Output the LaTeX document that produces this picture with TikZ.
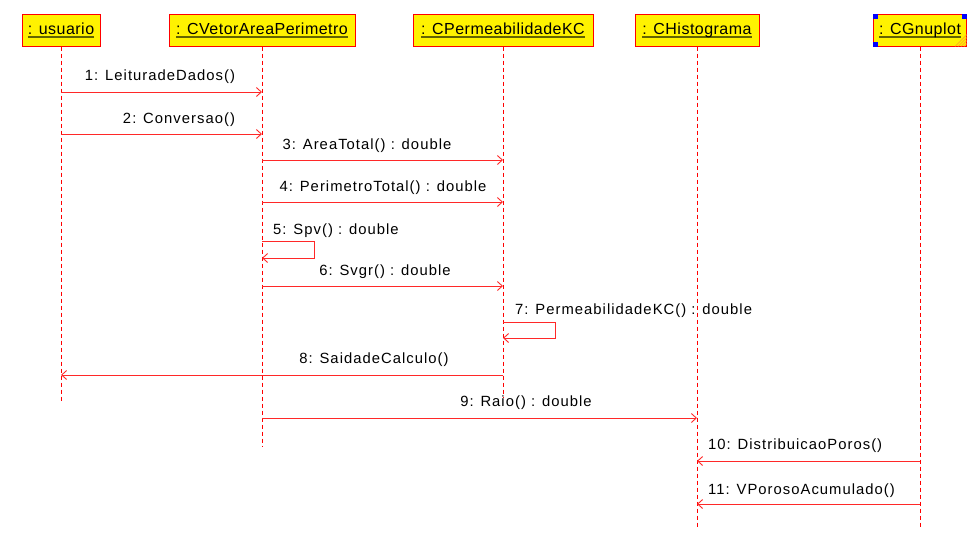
\documentclass[tikz,border=0pt]{standalone}
\usepackage{fontspec}
\setmainfont{Liberation Sans}
\newfontfamily\lblfont{Liberation Sans}[LetterSpace=7]
\newfontfamily\hdrfont{Liberation Sans}[LetterSpace=3]
\usetikzlibrary{arrows.meta}
\definecolor{ulcol}{RGB}{100,100,0}
\definecolor{hatch}{RGB}{255,150,40}
\definecolor{msgred}{RGB}{255,40,40}
\newcommand{\ulname}[1]{\setbox0\hbox{#1}\rlap{\color{ulcol}\rule[-3.5pt]{\wd0}{1.6pt}}\box0}
\tikzset{obj/.style = {draw=red, line width=1pt, fill=yellow, minimum height=32, inner sep=0,
                       font=\hdrfont\fontsize{16}{18}\selectfont}}
\tikzset{life/.style = {draw=red, line width=0.9pt, dash pattern=on 4pt off 3pt}}
\tikzset{msg/.style = {draw=msgred, line width=0.9pt, -{Straight Barb[length=5pt,width=9pt]}}}
\tikzset{lbl/.style = {font=\lblfont\fontsize{14.8}{16}\selectfont, inner sep=0}}

\begin{document}
\begin{tikzpicture}[x=1pt, y=-1pt]
    \useasboundingbox (0,0) rectangle (980,539);

    \node [obj, minimum width=78] (usr) at (61,30) {\ulname{: usuario}};
    \node [obj, minimum width=186] (vap) at (262,30) {\ulname{: CVetorAreaPerimetro}};
    \node [obj, minimum width=180] (pkc) at (503,30) {\ulname{: CPermeabilidadeKC}};
    \node [obj, minimum width=124] (his) at (697,30) {\ulname{: CHistograma}};
    \node [obj, minimum width=93] (gnu) at (920,30) {\ulname{: CGnuplot}};

    \fill [blue] (gnu.north west) rectangle ++(5,5);
    \fill [blue] (gnu.north east) rectangle ++(-5,5);
    \fill [blue] (gnu.south west) rectangle ++(5,-5);
    \foreach \d in {3,6,9,12}
      \draw [hatch, line width=0.6pt] ([xshift=-\d pt]gnu.south east) -- ([yshift=\d pt]gnu.south east);

    \draw [life] (usr.south) -- (usr |- 0,403);
    \draw [life] (vap.south) -- (vap |- 0,446);
    \draw [life] (pkc.south) -- (pkc |- 0,397);
    \draw [life] (his.south) -- (his |- 0,528);
    \draw [life] (gnu.south) -- (gnu |- 0,528);

    \draw [msg] (usr |- 0,92) -- (vap |- 0,92);
    \node [lbl] (m1) at (160,77) {1: LeituradeDados()};

    \draw [msg] (usr |- 0,134) -- (vap |- 0,134);
    \node [lbl] (m2) at (179,120) {2: Conversao()};

    \draw [msg] (vap |- 0,160) -- (pkc |- 0,160);
    \node [lbl] (m3) at (367,146) {3: AreaTotal() : double};

    \draw [msg] (vap |- 0,202) -- (pkc |- 0,202);
    \node [lbl] (m4) at (383,188) {4: PerimetroTotal() : double};

    \draw [msg] (vap |- 0,241) -- ++(52,0) -- ++(0,17) -- (vap |- 0,258);
    \node [lbl, anchor=west] (m5) at (273,231) {5: Spv() : double};

    \draw [msg] (vap |- 0,286) -- (pkc |- 0,286);
    \node [lbl] (m6) at (385,272) {6: Svgr() : double};

    \draw [msg] (pkc |- 0,322) -- ++(52,0) -- ++(0,16) -- (pkc |- 0,338);
    \node [lbl, anchor=west] (m7) at (515,311) {7: PermeabilidadeKC() : double};

    \draw [msg] (pkc |- 0,375) -- (usr |- 0,375);
    \node [lbl] (m8) at (374,360) {8: SaidadeCalculo()};

    \draw [msg] (vap |- 0,418) -- (his |- 0,418);
    \node [lbl] (m9) at (526,403) {9: Raio() : double};

    \draw [msg] (gnu |- 0,461) -- (his |- 0,461);
    \node [lbl, anchor=west] (m10) at (708,446) {10: DistribuicaoPoros()};

    \draw [msg] (gnu |- 0,504) -- (his |- 0,504);
    \node [lbl, anchor=west] (m11) at (708,491) {11: VPorosoAcumulado()};
  \end{tikzpicture}
\end{document}
